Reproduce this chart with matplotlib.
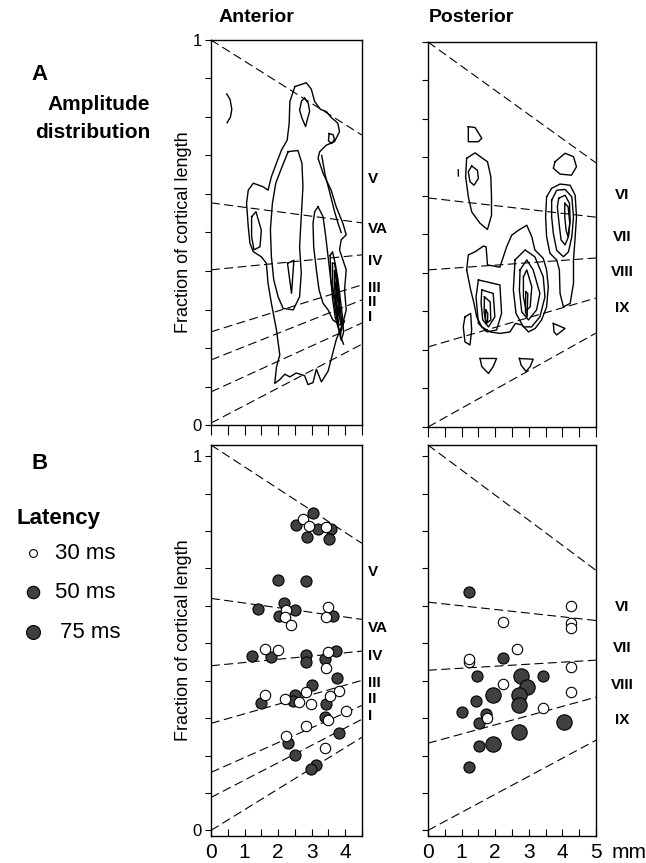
import matplotlib
matplotlib.use('Agg')
import matplotlib.pyplot as plt

plt.rcParams['font.family'] = ['Liberation Sans', 'DejaVu Sans']

W, H = 646, 863

# ---------------- data ----------------
# lobule boundary lines: y at x=0 (left) and y at right edge
ant_top_bounds_left = [1.0, 0.577, 0.403, 0.242, 0.169, 0.086, 0.005]
ant_top_bounds_right = [0.753, 0.525, 0.442, 0.364, 0.325, 0.265, 0.21]
ant_bot_bounds_left = [1.03, 0.62, 0.44, 0.286, 0.155, 0.088, 0.0]
ant_bot_bounds_right = [0.767, 0.564, 0.479, 0.401, 0.334, 0.297, 0.249]
post_top_bounds_left = [1.0, 0.595, 0.408, 0.208, 0.0]
post_top_bounds_right = [0.686, 0.545, 0.439, 0.335, 0.244]
post_bot_bounds_left = [1.03, 0.61, 0.428, 0.233, 0.0]
post_bot_bounds_right = [0.695, 0.561, 0.455, 0.356, 0.241]

ant_lobules = ['V', 'VA', 'IV', 'III', 'II', 'I']
ant_top_label_y = [0.64, 0.51, 0.427, 0.357, 0.32, 0.28]
ant_bot_label_y = [0.69, 0.54, 0.466, 0.394, 0.35, 0.305]
post_lobules = ['VI', 'VII', 'VIII', 'IX']
post_top_label_y = [0.603, 0.494, 0.403, 0.309]
post_bot_label_y = [0.597, 0.487, 0.389, 0.295]

ant_xmax = 4.5
post_xmax = 5.0
ant_xtick_labels = ['0', '1', '2', '3', '4']
post_xtick_labels = ['0', '1', '2', '3', '4', '5']
ytick_vals = [0.0, 0.1, 0.2, 0.3, 0.4, 0.5, 0.6, 0.7, 0.8, 0.9, 1.0]
ytick_labels = ['0', '', '', '', '', '', '', '', '', '', '1']

# amplitude contour lines (anterior), traced
ant_arc = [(0.47, 0.86), (0.57, 0.845), (0.62, 0.82), (0.58, 0.80), (0.48, 0.785)]
ant_outer = [(2.50, 0.879), (2.84, 0.889), (2.99, 0.872), (3.09, 0.840), (3.26, 0.820),
             (3.44, 0.814), (3.58, 0.799), (3.78, 0.784), (3.83, 0.762), (3.68, 0.736),
             (3.44, 0.727), (3.24, 0.710), (3.19, 0.693), (3.34, 0.654), (3.58, 0.610),
             (3.73, 0.567), (3.93, 0.524), (4.03, 0.494), (3.88, 0.481), (3.83, 0.455),
             (4.03, 0.403), (3.98, 0.351), (4.03, 0.299), (3.93, 0.264), (3.73, 0.221),
             (3.49, 0.140), (3.29, 0.112), (3.14, 0.145), (3.04, 0.110), (2.89, 0.105),
             (2.79, 0.128), (2.54, 0.135), (2.35, 0.125), (2.20, 0.132), (2.05, 0.118),
             (1.90, 0.108), (1.95, 0.150), (2.05, 0.182), (1.95, 0.247), (1.80, 0.316),
             (1.70, 0.368), (1.65, 0.420), (1.50, 0.437), (1.26, 0.450), (1.16, 0.472),
             (1.11, 0.515), (1.06, 0.576), (1.11, 0.610), (1.26, 0.628), (1.55, 0.619),
             (1.70, 0.610), (1.80, 0.645), (1.95, 0.680), (2.10, 0.714), (2.27, 0.740),
             (2.33, 0.784), (2.35, 0.840), (2.50, 0.879)]
ant_inner = [(2.30, 0.710), (2.59, 0.713), (2.71, 0.680), (2.74, 0.619), (2.69, 0.541),
             (2.64, 0.463), (2.69, 0.394), (2.64, 0.333), (2.45, 0.299), (2.15, 0.303),
             (2.00, 0.333), (1.87, 0.377), (1.80, 0.437), (1.77, 0.507), (1.83, 0.576),
             (1.93, 0.628), (2.10, 0.667), (2.30, 0.710)]
ant_top_oval = [(2.79, 0.849), (2.90, 0.835), (2.94, 0.815), (2.86, 0.790), (2.82, 0.775),
                (2.72, 0.795), (2.64, 0.818), (2.70, 0.842), (2.79, 0.849)]
ant_small_ellipse = [(3.52, 0.757), (3.64, 0.754), (3.68, 0.742), (3.60, 0.731),
                     (3.50, 0.738), (3.52, 0.757)]
ant_triangle = [(2.28, 0.420), (2.47, 0.428), (2.40, 0.342), (2.28, 0.420)]
ant_diamond = [(1.21, 0.541), (1.34, 0.554), (1.50, 0.506), (1.46, 0.463),
               (1.28, 0.455), (1.21, 0.489), (1.21, 0.541)]
ant_right_strand = [(3.30, 0.700), (3.40, 0.650), (3.55, 0.600), (3.68, 0.555),
                    (3.80, 0.520), (3.88, 0.500)]
ant_right2 = [(3.19, 0.567), (3.34, 0.541), (3.42, 0.489), (3.49, 0.437), (3.58, 0.368),
              (3.73, 0.316), (3.83, 0.281), (3.78, 0.264), (3.63, 0.273), (3.49, 0.299),
              (3.34, 0.316), (3.22, 0.351), (3.14, 0.403), (3.06, 0.463), (3.04, 0.524),
              (3.09, 0.554), (3.19, 0.567)]
ant_right3 = [(3.55, 0.44), (3.62, 0.45), (3.70, 0.42), (3.78, 0.38), (3.85, 0.33),
              (3.92, 0.28), (3.95, 0.24), (3.88, 0.22), (3.80, 0.25), (3.70, 0.28),
              (3.62, 0.33), (3.57, 0.38), (3.55, 0.44)]
ant_right4 = [(3.62, 0.42), (3.68, 0.42), (3.74, 0.39), (3.82, 0.33), (3.88, 0.28),
              (3.90, 0.25), (3.84, 0.24), (3.76, 0.27), (3.68, 0.31), (3.63, 0.36),
              (3.62, 0.42)]
ant_right5 = [(3.68, 0.40), (3.72, 0.39), (3.78, 0.34), (3.84, 0.29), (3.86, 0.26),
              (3.80, 0.26), (3.73, 0.30), (3.69, 0.35), (3.68, 0.40)]
ant_right6 = [(3.72, 0.37), (3.76, 0.34), (3.81, 0.29), (3.78, 0.28), (3.73, 0.32),
              (3.72, 0.37)]
ant_right_arc = [(3.98, 0.27), (3.88, 0.25), (3.86, 0.23), (3.95, 0.21)]

# amplitude contour lines (posterior), traced
post_top_tri = [(1.20, 0.780), (1.40, 0.778), (1.60, 0.750), (1.50, 0.741),
                (1.20, 0.741), (1.20, 0.780)]
post_left_outer = [(1.15, 0.698), (1.40, 0.712), (1.77, 0.689), (1.87, 0.650),
                   (1.89, 0.598), (1.89, 0.550), (1.77, 0.513), (1.55, 0.529),
                   (1.30, 0.559), (1.20, 0.598), (1.12, 0.650), (1.15, 0.698)]
post_left_inner = [(1.30, 0.678), (1.47, 0.667), (1.50, 0.646), (1.37, 0.628),
                   (1.25, 0.637), (1.20, 0.663), (1.30, 0.678)]
post_tick = [(0.90, 0.668), (0.905, 0.652)]
post_right_tri = [(3.78, 0.689), (4.08, 0.711), (4.33, 0.702), (4.42, 0.676),
                  (4.27, 0.654), (3.93, 0.657), (3.73, 0.672), (3.78, 0.689)]
post_right1 = [(3.53, 0.598), (3.68, 0.620), (3.93, 0.631), (4.23, 0.628), (4.38, 0.602),
               (4.42, 0.546), (4.38, 0.494), (4.33, 0.434), (4.33, 0.373), (4.23, 0.321),
               (4.03, 0.312), (3.93, 0.347), (3.91, 0.408), (3.83, 0.434), (3.63, 0.451),
               (3.53, 0.494), (3.50, 0.546), (3.53, 0.598)]
post_right2 = [(3.68, 0.589), (3.83, 0.615), (4.08, 0.617), (4.28, 0.598), (4.33, 0.546),
               (4.28, 0.494), (4.18, 0.455), (4.03, 0.442), (3.83, 0.459), (3.73, 0.503),
               (3.68, 0.546), (3.68, 0.589)]
post_right3 = [(3.89, 0.594), (4.08, 0.602), (4.21, 0.581), (4.23, 0.537), (4.18, 0.494),
               (4.08, 0.473), (3.96, 0.486), (3.90, 0.529), (3.85, 0.572), (3.89, 0.594)]
post_right4 = [(4.07, 0.581), (4.17, 0.572), (4.22, 0.529), (4.17, 0.494), (4.11, 0.511),
               (4.07, 0.546), (4.07, 0.581)]
post_low_outer = [(1.15, 0.408), (1.20, 0.447), (1.40, 0.455), (1.65, 0.470), (1.73, 0.468),
                  (1.77, 0.421), (2.14, 0.415), (2.34, 0.468), (2.49, 0.498), (2.69, 0.511),
                  (2.94, 0.524), (3.09, 0.494), (3.18, 0.460), (3.43, 0.438), (3.53, 0.408),
                  (3.58, 0.364), (3.53, 0.312), (3.38, 0.278), (3.19, 0.256), (2.99, 0.247),
                  (2.80, 0.265), (2.60, 0.269), (2.44, 0.247), (2.14, 0.243), (1.85, 0.247),
                  (1.60, 0.260), (1.45, 0.286), (1.37, 0.321), (1.27, 0.356), (1.15, 0.408)]
post_lpk1 = [(1.50, 0.382), (2.14, 0.369), (2.19, 0.295), (2.04, 0.252), (1.75, 0.247),
             (1.50, 0.269), (1.43, 0.338), (1.50, 0.382)]
post_lpk2 = [(1.60, 0.356), (1.94, 0.347), (1.99, 0.286), (1.80, 0.260), (1.63, 0.278),
             (1.58, 0.321), (1.60, 0.356)]
post_lpk3 = [(1.68, 0.338), (1.85, 0.325), (1.87, 0.278), (1.73, 0.269), (1.67, 0.299),
             (1.68, 0.338)]
post_lpk4 = [(1.72, 0.304), (1.78, 0.295), (1.77, 0.271), (1.71, 0.278), (1.72, 0.304)]
post_mpk1 = [(2.59, 0.434), (2.89, 0.460), (3.18, 0.442), (3.43, 0.390), (3.48, 0.338),
             (3.33, 0.286), (3.08, 0.260), (2.84, 0.260), (2.62, 0.295), (2.54, 0.356),
             (2.59, 0.434)]
post_mpk2 = [(2.74, 0.408), (2.94, 0.434), (3.13, 0.408), (3.33, 0.347), (3.23, 0.304),
             (2.99, 0.278), (2.79, 0.299), (2.72, 0.356), (2.74, 0.408)]
post_mpk3 = [(2.84, 0.390), (2.94, 0.408), (3.09, 0.364), (3.04, 0.312), (2.92, 0.302),
             (2.84, 0.338), (2.84, 0.390)]
post_mpk4 = [(2.91, 0.351), (2.97, 0.347), (2.95, 0.286), (2.90, 0.299), (2.91, 0.351)]
post_small_left = [(1.10, 0.286), (1.27, 0.295), (1.30, 0.252), (1.25, 0.213),
                   (1.10, 0.221), (1.05, 0.260), (1.10, 0.286)]
post_small_right = [(3.73, 0.269), (4.08, 0.256), (3.83, 0.239), (3.75, 0.247), (3.73, 0.269)]
post_bot_tri1 = [(1.55, 0.178), (2.04, 0.178), (1.94, 0.157), (1.80, 0.139),
                 (1.60, 0.157), (1.55, 0.178)]
post_bot_tri2 = [(2.72, 0.178), (3.13, 0.176), (3.04, 0.157), (2.92, 0.144),
                 (2.77, 0.161), (2.72, 0.178)]

ant_contours = [ant_arc, ant_outer, ant_inner, ant_top_oval, ant_small_ellipse,
                ant_triangle, ant_diamond, ant_right_strand, ant_right2, ant_right3,
                ant_right4, ant_right5, ant_right6, ant_right_arc]
post_contours = [post_top_tri, post_left_outer, post_left_inner, post_tick,
                 post_right_tri, post_right1, post_right2, post_right3, post_right4,
                 post_low_outer, post_lpk1, post_lpk2, post_lpk3, post_lpk4,
                 post_mpk1, post_mpk2, post_mpk3, post_mpk4, post_small_left,
                 post_small_right, post_bot_tri1, post_bot_tri2]

# latency scatter (anterior)
ant_x = [3.05, 2.73, 2.53, 2.92, 3.19, 3.42, 3.57, 2.87, 3.53,
         2.00, 2.83,
         1.41, 2.17, 2.23, 2.20, 2.02, 2.50, 3.49, 3.42, 3.64,
         2.38,
         1.61, 2.00, 1.21, 1.78, 2.83, 2.83, 3.49, 3.74, 3.39, 3.44, 3.76,
         3.00, 2.83, 3.82, 3.54, 3.44, 2.50, 2.45, 1.61, 1.48, 2.20, 2.63,
         2.98, 4.01, 3.39, 3.49, 2.83, 3.81, 2.23, 2.30, 3.39, 2.50, 3.14, 2.97]
ant_y = [0.847, 0.831, 0.817, 0.814, 0.806, 0.812, 0.805, 0.784, 0.779,
         0.669, 0.666,
         0.593, 0.607, 0.590, 0.571, 0.574, 0.589, 0.596, 0.571, 0.574,
         0.549,
         0.484, 0.482, 0.466, 0.464, 0.468, 0.451, 0.477, 0.479, 0.457, 0.435, 0.406,
         0.388, 0.370, 0.372, 0.360, 0.337, 0.361, 0.346, 0.361, 0.341, 0.350, 0.344,
         0.337, 0.319, 0.302, 0.296, 0.279, 0.261, 0.252, 0.234, 0.219, 0.201, 0.176, 0.163]
ant_lat = [50, 30, 50, 30, 50, 30, 50, 50, 50,
           50, 50,
           50, 50, 30, 30, 50, 50, 30, 30, 50,
           30,
           30, 30, 50, 50, 50, 50, 30, 50, 50, 30, 50,
           50, 30, 30, 30, 50, 50, 50, 30, 50, 30, 30,
           30, 30, 50, 30, 30, 50, 30, 50, 30, 50, 50, 50]

# latency scatter (posterior)
post_x = [1.23, 4.25, 2.24, 4.25, 4.25, 2.64, 1.23, 1.23, 2.24, 4.25,
          1.45, 2.76, 3.43, 2.24, 2.96, 1.94, 2.72, 4.25, 1.43, 2.72,
          3.43, 1.02, 1.77, 1.73, 1.53, 4.05, 2.72, 1.53, 1.94, 1.23]
post_y = [0.636, 0.599, 0.558, 0.555, 0.540, 0.484, 0.449, 0.458, 0.461, 0.437,
          0.413, 0.413, 0.412, 0.390, 0.384, 0.361, 0.361, 0.370, 0.346, 0.335,
          0.326, 0.317, 0.300, 0.310, 0.286, 0.290, 0.262, 0.226, 0.230, 0.170]
post_lat = [50, 30, 30, 30, 30, 30, 30, 30, 50, 30,
            50, 75, 50, 30, 75, 75, 75, 30, 50, 75,
            30, 50, 30, 50, 50, 75, 75, 50, 75, 50]

legend_labels = ['30 ms', '50 ms', '75 ms']
legend_lat = [30, 50, 75]

# ---------------- styling helpers ----------------
size_of = {30: 56, 50: 64, 75: 122}
face_of = {30: 'white', 50: '#404040', 75: '#404040'}


def rect(l, t, r, b):
    return [l / W, 1 - b / H, (r - l) / W, (b - t) / H]


fig = plt.figure(figsize=(W / 100, H / 100), dpi=100)
fig.patch.set_facecolor('white')

# overlay for free text and legend (pixel coords)
ov = fig.add_axes([0, 0, 1, 1])
ov.set_xlim(0, W)
ov.set_ylim(H, 0)
ov.axis('off')

ax_at = fig.add_axes(rect(211, 40, 362, 425))
ax_pt = fig.add_axes(rect(428, 42, 596, 427))
ax_ab = fig.add_axes(rect(211, 445, 362, 836))
ax_pb = fig.add_axes(rect(428, 445, 596, 836))


def style(ax, xmax, top, xlabels, ylabels):
    ax.set_xlim(0, xmax)
    if top:
        ax.set_ylim(0, 1)
    else:
        ax.set_ylim(-0.015, 1.03)
    for s in ax.spines.values():
        s.set_linewidth(1.0)
    halves = [i * 0.5 for i in range(int(round(xmax * 2)) + 1)]
    ax.set_yticks(ytick_vals)
    if ylabels:
        ax.set_yticklabels(ytick_labels, fontsize=12)
    else:
        ax.set_yticklabels([])
    ax.tick_params(axis='y', direction='out', length=4, width=0.8, pad=2.5)
    if top:
        ax.set_xticks(halves)
        ax.set_xticklabels([])
        ax.tick_params(axis='x', direction='out', length=7, width=0.8)
    else:
        ax.set_xticks(list(range(len(xlabels))))
        ax.set_xticklabels(xlabels, fontsize=15)
        ax.set_xticks(halves, minor=True)
        ax.tick_params(axis='x', which='both', direction='in', length=5,
                       width=0.8, pad=5)


def bounds(ax, xmax, yl, yr):
    for a, b in zip(yl, yr):
        ax.plot([0, xmax], [a, b], color='black', lw=0.8,
                linestyle=(0, (8, 4)), zorder=2, clip_on=False)


def contours(ax, lines):
    for c in lines:
        ax.plot([p[0] for p in c], [p[1] for p in c], color='black',
                lw=1.0, zorder=3)


def lobule_labels(ax, names, ys, xpos, ha):
    tr = ax.get_yaxis_transform()
    for n, y in zip(names, ys):
        ax.text(xpos, y, n, transform=tr, ha=ha, va='center',
                fontsize=11, fontweight='bold')


def scatter(ax, xs, ys, lats):
    order = [i for i in range(len(xs)) if lats[i] != 30] + \
            [i for i in range(len(xs)) if lats[i] == 30]
    for i in order:
        ax.scatter([xs[i]], [ys[i]], s=size_of[lats[i]], facecolor=face_of[lats[i]],
                   edgecolor='black', linewidths=0.8, zorder=4)


style(ax_at, ant_xmax, True, None, True)
style(ax_pt, post_xmax, True, None, False)
style(ax_ab, ant_xmax, False, ant_xtick_labels, True)
style(ax_pb, post_xmax, False, post_xtick_labels, False)

bounds(ax_at, ant_xmax, ant_top_bounds_left, ant_top_bounds_right)
bounds(ax_pt, post_xmax, post_top_bounds_left, post_top_bounds_right)
bounds(ax_ab, ant_xmax, ant_bot_bounds_left, ant_bot_bounds_right)
bounds(ax_pb, post_xmax, post_bot_bounds_left, post_bot_bounds_right)

contours(ax_at, ant_contours)
contours(ax_pt, post_contours)

scatter(ax_ab, ant_x, ant_y, ant_lat)
scatter(ax_pb, post_x, post_y, post_lat)

lobule_labels(ax_at, ant_lobules, ant_top_label_y, 1.04, 'left')
lobule_labels(ax_ab, ant_lobules, ant_bot_label_y, 1.04, 'left')
lobule_labels(ax_pt, post_lobules, post_top_label_y, 1.155, 'center')
lobule_labels(ax_pb, post_lobules, post_bot_label_y, 1.155, 'center')

# headers and annotations
ov.text(256, 18, 'Anterior', ha='center', va='center', fontsize=14, fontweight='bold')
ov.text(471, 18, 'Posterior', ha='center', va='center', fontsize=14, fontweight='bold')
ov.text(40, 75, 'A', ha='center', va='center', fontsize=16, fontweight='bold')
ov.text(40, 463, 'B', ha='center', va='center', fontsize=16, fontweight='bold')
ov.text(150, 105, 'Amplitude', ha='right', va='center', fontsize=15, fontweight='bold')
ov.text(150, 133, 'distribution', ha='right', va='center', fontsize=15, fontweight='bold')
ov.text(183, 232, 'Fraction of cortical length', rotation=90, ha='center',
        va='center', fontsize=13)
ov.text(183, 640, 'Fraction of cortical length', rotation=90, ha='center',
        va='center', fontsize=13)
ov.text(612, 852, 'mm', ha='left', va='center', fontsize=15)

# legend
ov.text(16, 518, 'Latency', ha='left', va='center', fontsize=16, fontweight='bold')
leg_y = [553, 592, 632]
leg_sizes = [32, 80, 100]
leg_tx = [55, 55, 60]
for lab, lat, yy, ss, tx in zip(legend_labels, legend_lat, leg_y, leg_sizes, leg_tx):
    ov.scatter([33], [yy], s=ss, facecolor=face_of[lat], edgecolor='black',
               linewidths=0.8)
    ov.text(tx, yy, lab, ha='left', va='center', fontsize=16)

fig.savefig('out.png', dpi=100)
